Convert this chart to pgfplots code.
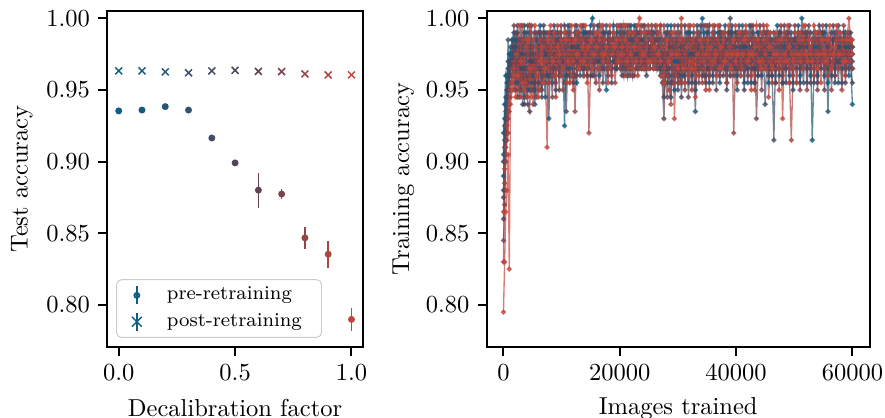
\documentclass[border=0pt]{standalone}
\usepackage{pgfplots}
\usepackage{pgfplotstable}
\pgfplotsset{compat=1.18}
\definecolor{c0}{RGB}{13,93,133}
\definecolor{c1}{RGB}{22,90,128}
\definecolor{c2}{RGB}{35,86,120}
\definecolor{c3}{RGB}{52,82,112}
\definecolor{c4}{RGB}{66,76,102}
\definecolor{c5}{RGB}{80,68,90}
\definecolor{c6}{RGB}{100,66,84}
\definecolor{c7}{RGB}{125,67,77}
\definecolor{c8}{RGB}{150,68,70}
\definecolor{c9}{RGB}{172,69,64}
\definecolor{c10}{RGB}{196,70,58}
\pgfplotstableread{
x s0 s1 s2 s3 s4 s5 s6 s7 s8 s9 s10
0 0.905 0.92 0.89 0.90 0.88 0.875 0.86 0.845 0.83 0.865 0.795
200 0.94 0.93 0.915 0.925 0.91 0.90 0.88 0.87 0.885 0.895 0.83
400 0.96 0.945 0.935 0.94 0.93 0.92 0.915 0.905 0.90 0.91 0.865
600 0.955 0.96 0.95 0.945 0.95 0.935 0.93 0.92 0.915 0.925 0.88
800 0.97 0.955 0.965 0.985 0.955 0.95 0.945 0.935 0.93 0.92 0.905
1000 0.965 0.975 0.96 0.955 0.97 0.96 0.955 0.95 0.94 0.935 0.825
1200 0.975 0.97 0.98 0.965 0.96 0.97 0.965 0.955 0.95 0.945 0.94
1500 0.985 0.965 0.97 0.975 0.985 0.965 0.97 0.96 0.965 0.955 0.95
1800 0.97 0.98 0.99 0.95 0.975 0.98 0.96 0.995 0.97 0.965 0.96
2100 0.985 0.96 0.975 0.97 0.955 0.965 0.99 0.95 0.96 0.975 0.945
2400 0.975 0.955 0.995 0.96 0.97 0.99 0.945 0.97 0.965 0.975 0.96
2700 0.96 0.975 0.965 0.985 0.98 0.945 0.97 0.985 0.95 0.96 0.995
3000 0.95 0.985 0.97 0.975 0.95 0.965 0.995 0.955 0.98 0.945 0.97
3300 0.98 0.965 0.955 0.94 0.975 0.985 0.96 0.97 0.995 0.985 0.955
3600 0.995 0.945 0.96 0.97 0.99 0.94 0.965 0.985 0.96 0.97 0.95
3900 0.965 0.97 0.98 0.99 0.96 0.975 0.955 0.945 0.985 0.955 0.98
4200 0.95 0.975 0.965 0.98 0.955 0.995 0.94 0.965 0.975 0.945 0.985
4500 0.975 0.99 0.95 0.965 0.97 0.96 0.935 0.98 0.96 0.995 0.965
4800 0.97 0.96 0.98 0.955 0.995 0.97 0.985 0.95 0.965 0.99 0.945
5100 0.96 0.975 0.97 0.985 0.95 0.98 0.975 0.965 0.98 0.94 0.985
5400 0.94 0.99 0.95 0.97 0.965 0.955 0.97 0.975 0.945 0.965 0.995
5700 0.985 0.97 0.965 0.945 0.985 0.97 0.96 0.99 0.97 0.98 0.96
6000 0.98 0.965 0.975 0.955 0.99 0.98 0.955 0.965 0.975 0.95 0.945
6300 0.965 0.995 0.99 0.975 0.97 0.965 0.985 0.975 0.95 0.985 0.97
6600 0.955 0.965 0.985 0.98 0.945 0.95 0.98 0.99 0.955 0.975 0.98
6900 0.99 0.975 0.96 0.965 0.985 0.995 0.965 0.96 0.985 0.965 0.955
7200 0.975 0.985 0.945 0.99 0.955 0.975 0.97 0.97 0.98 0.97 0.965
7500 0.97 0.96 0.975 0.975 0.98 0.96 0.99 0.98 0.97 0.985 0.91
7800 0.96 0.93 0.985 0.97 0.975 0.98 0.955 0.975 0.99 0.955 0.985
8100 0.985 0.975 0.97 0.96 0.99 0.97 0.975 0.965 0.975 0.98 0.995
8400 0.99 0.98 0.96 0.955 0.97 0.99 0.98 0.945 0.96 0.985 0.97
8700 0.975 0.97 0.98 0.995 0.96 0.975 0.965 0.985 0.98 0.97 0.99
9000 0.97 0.965 0.99 0.98 0.95 0.97 0.985 0.955 0.975 0.945 0.96
9300 0.98 0.99 0.975 0.97 0.985 0.98 0.975 0.97 0.965 0.995 0.98
9600 0.965 0.985 0.97 0.96 0.985 0.96 0.95 0.98 0.99 0.97 0.975
9900 0.985 0.975 0.96 0.99 0.975 0.985 0.98 0.995 0.975 0.96 0.985
10200 0.975 0.97 0.985 0.975 0.965 0.97 0.97 0.965 0.95 0.98 0.965
10500 0.925 0.98 0.955 0.98 0.975 0.985 0.995 0.975 0.985 0.975 0.99
10800 0.98 0.96 0.975 0.985 0.96 0.935 0.99 0.98 0.97 0.955 0.985
11100 0.97 0.985 0.995 0.965 0.98 0.975 0.97 0.985 0.98 0.975 0.97
11400 0.975 0.995 0.965 0.96 0.985 0.96 0.975 0.99 0.955 0.985 0.955
11700 0.985 0.975 0.98 0.975 0.97 0.98 0.985 0.97 0.975 0.96 0.995
12000 0.985 0.97 0.98 0.96 0.955 0.975 0.96 0.975 0.985 0.95 0.97
12300 0.96 0.985 0.97 0.99 0.98 0.97 0.975 0.995 0.935 0.985 0.985
12600 0.955 0.975 0.995 0.975 0.99 0.965 0.98 0.96 0.975 0.99 0.975
12900 0.98 0.99 0.975 0.97 0.965 0.985 0.97 0.99 0.985 0.975 0.965
13200 0.975 0.98 0.96 0.985 0.97 0.98 0.975 0.985 0.965 0.97 0.995
13500 0.985 0.965 0.98 0.975 0.985 0.995 0.965 0.97 0.98 0.985 0.98
13800 0.99 0.96 0.975 0.97 0.975 0.965 0.995 0.975 0.98 0.96 0.97
14100 0.97 0.985 0.99 0.98 0.965 0.975 0.98 0.985 0.97 0.975 0.995
14400 0.97 0.975 0.985 0.96 0.985 0.99 0.965 0.96 0.965 0.98 0.955
14700 0.985 0.99 0.965 0.98 0.975 0.975 0.985 0.975 0.985 0.92 0.98
15000 0.995 0.97 0.98 0.975 0.96 0.98 0.975 0.99 0.975 0.97 0.985
15300 1.0 0.975 0.975 0.99 0.97 0.96 0.97 0.98 0.98 0.975 0.965
15600 0.98 0.985 0.97 0.965 0.985 0.975 0.96 0.97 0.995 0.985 0.975
15900 0.975 0.98 0.985 0.97 0.975 0.985 0.975 0.955 0.975 0.99 0.98
16200 0.97 0.995 0.98 0.985 0.98 0.97 0.99 0.975 0.965 0.98 0.99
16500 0.96 0.975 0.97 0.975 0.995 0.975 0.98 0.985 0.95 0.965 0.985
16800 0.985 0.97 0.975 0.98 0.985 0.965 0.985 0.975 0.98 0.975 0.995
17100 0.98 0.98 0.99 0.97 0.965 0.98 0.955 0.985 0.995 0.975 0.97
17400 0.975 0.965 0.98 0.985 0.975 0.99 0.975 0.97 0.975 0.985 0.975
17700 0.97 0.95 0.975 0.995 0.98 0.97 0.98 0.975 0.965 0.98 0.98
18000 0.985 0.98 0.965 0.975 0.97 0.99 0.985 0.96 0.975 0.97 0.955
18300 0.975 0.985 0.97 0.98 0.99 0.975 0.97 0.98 0.985 0.965 0.995
18600 0.98 0.975 0.98 0.955 0.975 0.975 0.965 0.985 0.98 0.96 0.975
18900 0.995 0.97 0.985 0.975 0.98 0.98 0.975 0.99 0.975 0.98 0.99
19200 0.985 0.975 0.98 0.965 0.975 0.97 0.97 0.98 0.985 0.955 0.98
19500 0.965 0.99 0.97 0.975 0.985 0.965 0.98 0.995 0.97 0.975 0.985
19800 0.975 0.98 0.975 0.985 0.97 0.985 0.985 0.975 0.98 0.995 0.97
20100 0.98 0.97 0.99 0.98 0.965 0.975 0.995 0.97 0.965 0.985 0.975
20400 0.97 0.985 0.965 0.995 0.98 0.96 0.97 0.99 0.975 0.97 0.98
20700 0.99 0.965 0.98 0.97 0.985 0.975 0.96 0.98 0.985 0.975 0.995
21000 0.975 0.98 0.97 0.965 0.995 0.985 0.975 0.965 0.97 0.96 0.985
21300 0.985 0.97 0.96 0.975 0.97 0.965 0.99 0.975 0.995 0.98 0.97
21600 0.965 0.99 0.975 0.96 0.98 0.995 0.98 0.97 0.975 0.965 0.99
21900 0.995 0.975 0.985 0.98 0.965 0.97 0.965 0.99 0.96 0.98 0.975
22200 0.98 0.965 0.98 0.97 0.975 0.96 0.985 0.975 0.99 0.97 0.965
22500 0.97 0.985 0.995 0.985 0.98 0.975 0.97 0.96 0.98 0.99 0.98
22800 0.975 0.98 0.965 0.99 0.995 0.97 0.98 0.965 0.97 0.985 0.97
23100 0.985 0.97 0.975 0.965 0.97 0.985 0.99 0.98 0.985 0.96 0.995
23400 0.965 0.975 0.99 0.97 0.975 0.98 0.985 0.975 0.965 0.98 1.0
23700 0.99 0.965 0.98 0.975 0.985 0.97 0.965 0.995 0.975 0.99 0.97
24000 0.98 0.97 0.97 0.965 0.985 0.965 0.975 0.995 0.98 0.965 0.975
24300 0.97 0.99 0.965 0.985 0.97 0.98 0.995 0.97 0.965 0.975 0.99
24600 0.975 0.985 0.97 0.98 0.96 0.99 0.965 0.975 0.97 0.98 0.985
24900 0.985 0.97 0.985 0.97 0.98 0.975 0.975 0.99 0.995 0.965 0.97
25200 0.965 0.975 0.99 0.975 0.975 0.97 0.98 0.965 0.99 0.97 0.97
25500 0.975 0.995 0.975 0.985 0.99 0.98 0.97 0.98 0.975 0.985 0.995
25800 0.985 0.965 0.97 0.99 0.98 0.975 0.965 0.985 0.97 0.98 0.965
26100 0.97 0.975 0.985 0.965 0.97 0.995 0.98 0.975 0.98 0.97 0.98
26400 0.965 0.98 0.965 0.975 0.975 0.985 0.99 0.97 0.965 0.975 0.995
26700 0.985 0.97 0.975 0.97 0.985 0.965 0.97 0.985 0.975 0.99 0.975
27000 0.975 0.965 0.985 0.965 0.995 0.96 0.975 0.98 0.97 0.995 0.97
27300 0.96 0.985 0.97 0.98 0.975 0.97 0.955 0.975 0.985 0.98 0.96
27600 0.98 0.955 0.965 0.985 0.945 0.975 0.93 0.97 0.995 0.965 0.955
27900 0.97 0.975 0.99 0.97 0.965 0.985 0.975 0.955 0.975 0.985 0.98
28200 0.955 0.995 0.975 0.96 0.975 0.99 0.965 0.945 0.96 0.97 0.985
28500 0.985 0.97 0.96 0.985 0.98 0.965 0.98 0.99 0.97 0.95 0.97
28800 0.995 0.975 0.945 0.975 0.965 0.955 0.99 0.97 0.985 0.94 0.975
29100 0.965 0.985 0.975 0.965 0.985 0.98 0.955 0.98 0.965 0.975 0.99
29400 0.97 0.95 0.985 0.98 0.96 0.975 0.975 0.995 0.955 0.985 0.93
29700 0.98 0.97 0.965 0.99 0.975 0.965 0.985 0.965 0.98 0.96 0.975
30000 0.975 0.985 0.97 0.95 0.995 0.975 0.96 0.955 0.975 0.99 0.965
30300 0.96 0.965 0.99 0.975 0.97 0.985 0.975 0.985 0.955 0.975 0.985
30600 0.955 0.975 0.98 0.985 0.965 0.945 0.98 0.97 0.995 0.955 1.0
30900 0.985 0.98 0.97 0.96 0.985 0.975 0.965 0.98 0.97 0.985 0.965
31200 0.98 0.965 0.955 0.975 0.96 0.995 0.975 0.95 0.965 0.975 0.955
31500 0.965 0.985 0.985 0.99 0.975 0.965 0.985 0.975 0.985 0.965 0.98
31800 0.975 0.99 0.975 0.955 0.98 0.97 0.945 0.985 0.97 0.96 0.995
32100 0.99 0.97 0.965 0.975 0.97 0.985 0.97 0.995 0.965 0.98 0.97
32400 0.96 0.975 0.985 0.985 0.975 0.955 0.985 0.965 0.95 0.985 0.965
32700 0.975 0.98 0.97 0.965 0.99 0.975 0.965 0.97 0.985 0.97 0.995
33000 0.985 0.955 0.975 0.935 0.95 0.98 0.975 0.985 0.98 0.965 0.945
33300 0.97 0.975 0.995 0.975 0.97 0.965 0.985 0.97 0.97 0.99 0.975
33600 0.965 0.985 0.96 0.99 0.985 0.975 0.97 0.955 0.975 0.985 0.96
33900 0.985 0.965 0.97 0.98 0.975 0.995 0.97 0.98 0.965 0.97 0.985
34200 1.0 0.975 0.98 0.96 0.965 0.965 0.985 0.975 0.955 0.975 0.98
34500 0.98 0.99 0.965 0.97 0.98 0.975 0.96 0.995 0.985 0.965 0.97
34800 0.97 0.96 0.975 0.985 0.975 0.985 0.955 0.995 0.975 0.95 0.975
35100 0.965 0.975 0.99 0.975 0.99 0.965 0.98 0.97 0.995 0.98 0.985
35400 0.955 0.985 0.995 0.965 0.96 0.975 0.985 0.96 0.985 0.975 0.95
35700 0.985 0.97 0.975 0.985 0.97 0.98 0.97 0.985 0.965 0.97 0.98
36000 0.98 0.975 0.96 0.99 0.985 0.955 0.975 0.975 0.97 0.99 0.995
36300 0.97 0.99 0.975 0.965 0.975 0.97 0.995 0.965 0.985 0.975 0.97
36600 0.975 0.965 0.985 0.975 0.965 0.985 0.95 0.985 0.975 0.96 0.975
36900 0.99 0.975 0.965 0.98 0.985 0.97 0.975 0.975 0.965 0.985 0.995
37200 0.96 0.985 0.97 0.955 0.99 0.975 0.995 0.97 0.96 0.98 0.965
37500 0.975 0.965 0.985 0.975 0.97 0.99 0.975 0.99 0.975 0.965 0.98
37800 0.985 0.97 0.975 0.98 0.975 0.96 0.97 0.98 0.99 0.97 0.985
38100 0.97 0.995 0.965 0.985 0.98 0.975 0.985 0.965 0.975 0.99 0.97
38400 0.965 0.98 0.955 0.975 0.95 0.985 0.97 0.975 0.97 0.955 0.975
38700 0.98 0.975 0.99 0.965 0.975 0.99 0.975 0.985 0.98 0.975 0.995
39000 0.975 0.96 0.985 0.97 1.0 0.975 0.99 0.96 0.975 0.98 0.965
39300 0.99 0.98 0.975 0.995 0.98 0.965 0.975 0.97 0.985 0.965 0.975
39600 0.98 0.975 0.965 0.985 0.97 0.97 0.96 0.98 0.92 0.975 0.985
39900 0.97 0.985 0.98 0.965 0.975 0.99 0.985 0.975 0.97 0.995 0.97
40200 0.96 0.99 0.975 0.95 0.965 0.985 0.975 0.965 0.975 0.955 0.975
40500 0.985 0.975 0.97 0.98 0.995 0.97 0.965 0.985 0.985 0.975 0.99
40800 0.975 0.965 0.96 0.975 0.985 0.965 0.98 0.99 0.965 0.97 0.96
41100 0.965 0.985 0.995 0.97 0.97 0.98 0.99 0.975 0.985 0.965 0.975
41400 0.985 0.955 0.98 0.965 0.975 0.95 0.97 0.97 0.99 0.975 0.985
41700 0.975 0.98 0.975 0.99 0.985 0.975 0.965 0.985 0.97 0.985 0.995
42000 0.97 0.975 0.965 0.985 0.955 0.97 0.985 0.96 0.975 0.99 0.97
42300 0.98 0.995 0.98 0.975 0.97 0.985 0.97 0.98 0.985 0.97 0.975
42600 0.955 0.985 0.97 0.97 0.975 0.995 0.965 0.975 0.96 0.975 0.95
42900 0.985 0.975 0.985 0.98 0.99 0.965 0.98 0.995 0.975 0.985 0.975
43200 0.975 0.965 0.955 0.98 0.985 0.975 0.955 0.985 0.97 0.95 0.98
43500 0.97 0.985 0.975 0.97 0.965 0.985 0.975 0.93 0.985 0.975 0.995
43800 0.99 0.975 0.99 0.96 0.97 0.96 0.975 0.965 0.98 0.97 0.985
44100 0.975 0.98 0.97 0.985 0.985 0.97 0.995 0.975 0.965 0.98 0.97
44400 0.965 0.96 0.975 0.975 0.98 0.985 0.985 0.95 0.97 0.99 0.965
44700 0.985 0.975 0.985 0.965 0.975 0.99 0.97 0.98 0.995 0.97 0.985
45000 0.975 0.985 0.965 0.99 0.94 0.97 0.975 0.97 0.99 0.965 0.975
45300 0.98 0.99 0.975 0.97 0.975 0.985 0.98 0.975 0.965 0.985 0.995
45600 0.955 0.975 0.98 0.965 0.97 0.96 0.985 0.99 0.97 0.945 0.98
45900 0.985 0.97 0.99 0.985 0.965 0.975 0.975 0.985 0.98 0.97 0.99
46200 0.98 0.985 0.96 0.975 0.96 0.975 0.965 0.97 0.955 0.98 0.965
46500 0.97 0.975 0.975 0.98 0.915 0.99 0.975 0.965 0.985 0.975 0.975
46800 0.975 0.965 0.985 0.955 0.975 0.985 0.955 0.97 0.975 0.97 0.99
47100 0.995 0.98 0.97 0.985 0.985 0.97 0.985 0.98 0.965 0.985 0.975
47400 0.96 0.975 0.975 0.99 0.965 0.965 0.99 0.985 0.965 0.95 0.97
47700 0.98 0.99 0.985 0.97 0.975 0.985 0.975 0.98 0.995 0.975 0.985
48000 0.985 0.955 0.97 0.975 0.98 0.955 0.97 0.96 0.985 0.97 0.93
48300 0.97 0.975 0.98 0.985 0.97 0.975 0.995 0.975 0.97 0.99 0.975
48600 0.965 0.985 0.99 0.965 0.955 0.97 0.965 0.985 0.975 0.985 0.97
48900 0.985 0.97 0.975 0.98 0.99 0.985 0.975 0.99 0.98 0.97 0.995
49200 0.975 0.975 0.96 0.975 0.975 0.995 0.955 0.985 0.965 0.955 0.98
49500 0.98 0.99 0.985 0.97 0.97 0.975 0.985 0.97 0.985 0.915 0.975
49800 0.955 0.965 0.985 0.95 0.985 0.965 0.975 0.965 0.96 0.965 0.97
50100 0.99 0.975 0.975 0.985 0.98 0.985 0.97 0.995 0.975 0.975 0.99
50400 0.98 0.985 0.97 0.975 0.965 0.955 0.985 0.975 0.98 0.97 0.955
50700 0.97 0.975 0.995 0.98 0.99 0.975 0.975 0.985 0.99 0.985 0.975
51000 0.975 0.96 0.955 0.985 0.975 0.98 0.965 0.95 0.975 0.99 0.97
51300 1.0 0.985 0.975 0.97 0.97 0.985 0.99 0.975 0.97 0.975 0.985
51600 0.985 0.975 0.97 0.965 0.955 0.975 0.98 0.97 0.985 0.965 0.995
51900 0.975 0.99 0.985 0.985 0.985 0.97 0.975 0.985 0.975 0.995 0.975
52200 0.965 0.985 0.98 0.955 0.99 0.965 0.97 0.99 0.95 0.975 0.97
52500 0.985 0.975 0.97 0.975 0.975 0.985 0.995 0.97 0.985 0.97 0.985
52800 0.96 0.975 0.965 0.975 0.97 0.99 0.955 0.965 0.975 0.98 0.975
53100 0.975 0.915 0.985 0.985 0.985 0.975 0.97 0.985 0.97 0.985 0.97
53400 0.98 0.965 0.99 0.97 0.955 0.975 0.985 0.975 0.965 0.96 0.995
53700 0.985 0.975 0.975 0.975 0.97 0.985 0.975 0.99 0.985 0.975 0.99
54000 0.975 0.98 0.96 0.99 0.975 0.955 0.97 0.95 0.985 0.97 0.965
54300 0.97 0.985 0.985 0.975 0.995 0.97 0.985 0.975 0.975 0.99 0.975
54600 0.985 0.965 0.975 0.97 0.99 0.975 0.965 0.98 0.97 0.985 0.955
54900 0.975 0.975 0.985 0.985 0.975 0.99 0.975 0.985 0.995 0.975 0.985
55200 0.965 0.975 0.99 0.96 0.97 0.985 0.95 0.975 0.965 0.97 0.975
55500 0.985 0.995 0.975 0.975 0.985 0.97 0.985 0.97 0.975 0.985 0.97
55800 0.955 0.985 0.935 0.98 0.975 0.965 0.98 0.985 0.97 0.96 0.985
56100 0.975 0.97 0.975 0.985 0.985 0.975 0.97 0.975 0.985 0.975 0.995
56400 0.975 0.96 0.975 0.975 0.99 0.975 0.975 0.965 0.95 0.98 0.965
56700 0.985 0.975 0.985 0.97 0.97 0.985 0.995 0.975 0.975 0.97 0.975
57000 0.99 0.975 0.955 0.965 0.965 0.96 0.985 0.96 0.975 0.975 0.98
57300 0.97 0.985 0.975 0.985 0.975 0.975 0.97 0.985 0.99 0.985 0.995
57600 0.97 0.98 0.985 0.995 0.955 0.98 0.965 0.975 0.985 0.965 0.975
57900 0.985 0.97 0.975 0.97 0.985 0.97 0.975 0.99 0.975 0.975 0.99
58200 0.975 0.965 0.97 0.955 0.975 0.985 0.975 0.985 0.97 0.95 0.985
58500 0.99 0.985 0.975 0.975 0.97 0.975 0.985 0.975 0.995 0.975 0.97
58800 0.98 0.99 0.965 0.975 0.985 0.965 0.955 0.965 0.96 0.985 0.97
59100 0.97 0.975 0.985 0.985 0.975 0.985 0.975 0.975 0.97 0.99 0.985
59400 0.96 0.975 0.98 0.99 0.965 0.975 0.985 0.97 0.985 0.975 1.0
59700 0.985 0.97 0.975 0.975 0.99 0.97 0.97 0.985 0.975 0.97 0.985
60000 0.975 0.94 0.965 0.97 0.98 0.955 0.975 0.98 0.965 0.985 0.975
}\train
\pgfplotsset{
  common/.style={scale only axis, height=137.1pt, anchor=south west,
    ymin=0.7707, ymax=1.0051,
    ytick={0.8,0.85,0.9,0.95,1}, yticklabels={0.80,0.85,0.90,0.95,1.00},
    tick align=outside, tick pos=left, major tick length=3.5pt,
    every tick/.style={black, line width=0.8pt},
    axis line style={line width=0.8pt},
    xlabel style={at={(axis description cs:0.5,-0.182)}, anchor=center},
  },
  pre/.style={only marks, mark=*, mark size=1.1pt, line width=0.6pt,
    error bars/y dir=both, error bars/y explicit, error bars/error mark=none,
    error bars/error bar style={line width=0.6pt}},
  post/.style={only marks, mark=x, mark size=2pt, mark options={line width=0.6pt},
    error bars/y dir=both, error bars/y explicit, error bars/error mark=none,
    error bars/error bar style={line width=0.6pt}},
  trn/.style={line width=0.55pt, opacity=0.7, mark=*, mark size=0.8pt},
}
\begin{document}
\begin{tikzpicture}
\useasboundingbox (0,0) rectangle (361.2pt,170.6pt);
\begin{axis}[common, at={(43.7pt,29.0pt)}, width=104.5pt,
  xmin=-0.05, xmax=1.05, xtick={0,0.5,1}, xticklabels={0.0,0.5,1.0},
  xlabel={Decalibration factor}, ylabel={Test accuracy},
  ylabel style={at={(axis description cs:-0.333,0.5)}, anchor=center},
  legend style={at={(0.035,0.027)}, anchor=south west, draw=black!20, rounded corners=2pt,
    font=\footnotesize, fill=white, fill opacity=0.8, text opacity=1, draw opacity=1,
    inner xsep=6pt, inner ysep=1pt, row sep=0pt, column sep=8pt},
  legend cell align=left]
\addplot[c0, pre, legend image code/.code={\draw[c0,line width=0.6pt] (0pt,-0.13cm)--(0pt,0.13cm); \fill[c0] (0pt,0cm) circle (1.1pt);}] coordinates {(0,0.9354) +- (0,0.0005)};
\addlegendentry{pre-retraining}
\addplot[c0, post, legend image code/.code={\draw[c0,line width=0.6pt] (0pt,-0.13cm)--(0pt,0.13cm); \draw[c0,line width=0.6pt] (-2pt,-2pt) -- (2pt,2pt) (-2pt,2pt) -- (2pt,-2pt);}] coordinates {(0,0.9633) +- (0,0.0004)};
\addlegendentry{post-retraining}
\addplot[c1, pre, forget plot] coordinates {(0.1,0.9360) +- (0,0.0006)};
\addplot[c2, pre, forget plot] coordinates {(0.2,0.9384) +- (0,0.0006)};
\addplot[c3, pre, forget plot] coordinates {(0.3,0.9360) +- (0,0.0008)};
\addplot[c4, pre, forget plot] coordinates {(0.4,0.9165) +- (0,0.0010)};
\addplot[c5, pre, forget plot] coordinates {(0.5,0.8991) +- (0,0.0012)};
\addplot[c6, pre, forget plot] coordinates {(0.6,0.8801) +- (0,0.0122)};
\addplot[c7, pre, forget plot] coordinates {(0.7,0.8774) +- (0,0.0034)};
\addplot[c8, pre, forget plot] coordinates {(0.8,0.8468) +- (0,0.0079)};
\addplot[c9, pre, forget plot] coordinates {(0.9,0.8354) +- (0,0.0093)};
\addplot[c10, pre, forget plot] coordinates {(1.0,0.7899) +- (0,0.0083)};
\addplot[c1, post, forget plot] coordinates {(0.1,0.9633) +- (0,0.0004)};
\addplot[c2, post, forget plot] coordinates {(0.2,0.9626) +- (0,0.0004)};
\addplot[c3, post, forget plot] coordinates {(0.3,0.9620) +- (0,0.0004)};
\addplot[c4, post, forget plot] coordinates {(0.4,0.9633) +- (0,0.0004)};
\addplot[c5, post, forget plot] coordinates {(0.5,0.9637) +- (0,0.0004)};
\addplot[c6, post, forget plot] coordinates {(0.6,0.9630) +- (0,0.0004)};
\addplot[c7, post, forget plot] coordinates {(0.7,0.9628) +- (0,0.0004)};
\addplot[c8, post, forget plot] coordinates {(0.8,0.9612) +- (0,0.0004)};
\addplot[c9, post, forget plot] coordinates {(0.9,0.9605) +- (0,0.0004)};
\addplot[c10, post, forget plot] coordinates {(1.0,0.9605) +- (0,0.0004)};
\end{axis}
\begin{axis}[common, at={(198.6pt,29.0pt)}, width=156.4pt,
  xmin=-2900, xmax=63000, xtick={0,20000,40000,60000}, xticklabels={0,20000,40000,60000},
  scaled x ticks=false,
  xlabel={Images trained}, ylabel={Training accuracy},
  ylabel style={at={(axis description cs:-0.217,0.5)}, anchor=center}]
\addplot[c0, trn] table[x=x, y=s0] {\train};
\addplot[c1, trn] table[x=x, y=s1] {\train};
\addplot[c2, trn] table[x=x, y=s2] {\train};
\addplot[c3, trn] table[x=x, y=s3] {\train};
\addplot[c4, trn] table[x=x, y=s4] {\train};
\addplot[c5, trn] table[x=x, y=s5] {\train};
\addplot[c6, trn] table[x=x, y=s6] {\train};
\addplot[c7, trn] table[x=x, y=s7] {\train};
\addplot[c8, trn] table[x=x, y=s8] {\train};
\addplot[c9, trn] table[x=x, y=s9] {\train};
\addplot[c10, trn] table[x=x, y=s10] {\train};
\end{axis}
\end{tikzpicture}
\end{document}
